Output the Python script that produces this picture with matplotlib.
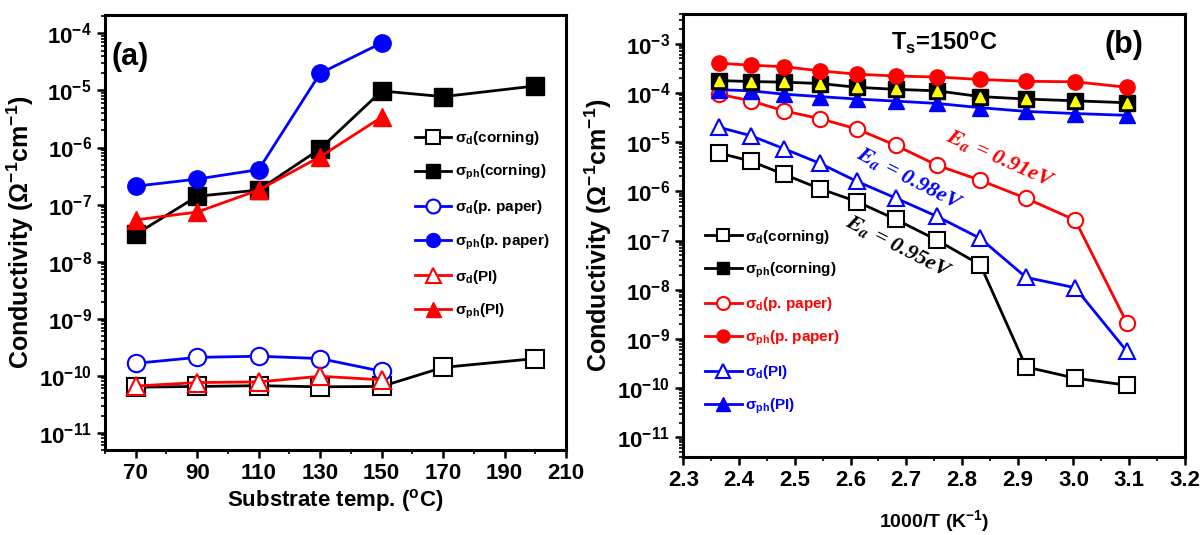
import matplotlib
matplotlib.use("Agg")
import matplotlib.pyplot as plt
from matplotlib.ticker import LogLocator, MultipleLocator, LogFormatterMathtext, NullFormatter, FixedLocator, FormatStrFormatter
from matplotlib.lines import Line2D

plt.rcParams['font.family'] = ['Liberation Sans', 'DejaVu Sans']
plt.rcParams['font.weight'] = 'bold'
plt.rcParams['mathtext.fontset'] = 'custom'
plt.rcParams['mathtext.rm'] = 'Liberation Sans:bold'
plt.rcParams['mathtext.bf'] = 'Liberation Sans:bold'
plt.rcParams['mathtext.it'] = 'Liberation Sans:bold:italic'
plt.rcParams['mathtext.sf'] = 'Liberation Sans:bold'
plt.rcParams['mathtext.default'] = 'bf'

# ---------------- Panel (a) data ----------------
ts_all = [70, 90, 110, 130, 150, 170, 200]
ts_five = [70, 90, 110, 130, 150]
a_sd_corning = [6.3e-11, 6.5e-11, 6.7e-11, 6.4e-11, 6.5e-11, 1.4e-10, 2.0e-10]
a_sph_corning = [3.0e-8, 1.4e-7, 1.8e-7, 9.5e-7, 9.8e-6, 7.8e-6, 1.2e-5]
a_sd_paper = [1.65e-10, 2.1e-10, 2.2e-10, 2.0e-10, 1.2e-10]
a_sph_paper = [2.1e-7, 2.8e-7, 4.1e-7, 2.0e-5, 6.8e-5]
a_sd_pi = [6.6e-11, 7.6e-11, 7.8e-11, 9.8e-11, 8.5e-11]
a_sph_pi = [5.4e-8, 7.4e-8, 1.8e-7, 6.9e-7, 3.4e-6]
a_xticks = [70, 90, 110, 130, 150, 170, 190, 210]
a_yticks = [1e-11, 1e-10, 1e-9, 1e-8, 1e-7, 1e-6, 1e-5, 1e-4]

# ---------------- Panel (b) data ----------------
invT = [2.364, 2.421, 2.481, 2.545, 2.611, 2.681, 2.755, 2.833, 2.915, 3.003, 3.096]
b_sd_corning = [6.0e-6, 4.1e-6, 2.2e-6, 1.13e-6, 6.2e-7, 2.7e-7, 1.02e-7, 3.2e-8, 2.7e-10, 1.6e-10, 1.15e-10]
b_sph_corning = [1.78e-4, 1.7e-4, 1.65e-4, 1.55e-4, 1.3e-4, 1.18e-4, 1.1e-4, 8.4e-5, 7.5e-5, 6.9e-5, 6.3e-5]
b_sd_paper = [9.4e-5, 6.9e-5, 4.3e-5, 3.0e-5, 1.85e-5, 8.6e-6, 3.4e-6, 1.67e-6, 7.2e-7, 2.6e-7, 2.1e-9]
b_sph_paper = [4.0e-4, 3.65e-4, 3.4e-4, 2.8e-4, 2.4e-4, 2.2e-4, 2.1e-4, 1.87e-4, 1.72e-4, 1.68e-4, 1.3e-4]
b_sd_pi = [2.0e-5, 1.35e-5, 7.3e-6, 3.7e-6, 1.6e-6, 7.3e-7, 3.1e-7, 1.1e-7, 1.78e-8, 1.1e-8, 5.6e-10]
b_sph_pi = [1.16e-4, 1.1e-4, 9.4e-5, 8.4e-5, 7.5e-5, 6.8e-5, 6.1e-5, 5.0e-5, 4.2e-5, 3.8e-5, 3.5e-5]
b_yticks = [1e-11, 1e-10, 1e-9, 1e-8, 1e-7, 1e-6, 1e-5, 1e-4, 1e-3]

labels = [r'$\sigma_{d}$(corning)', r'$\sigma_{ph}$(corning)', r'$\sigma_{d}$(p. paper)',
          r'$\sigma_{ph}$(p. paper)', r'$\sigma_{d}$(PI)', r'$\sigma_{ph}$(PI)']

BLK, BLU, RED = '#000000', '#0000FF', '#FF0000'

fig = plt.figure(figsize=(12.01, 5.35), dpi=100)
axa = fig.add_axes([0.0874, 0.1589, 0.3839, 0.813])
axb = fig.add_axes([0.569, 0.1458, 0.4176, 0.828])

lw = 2.0
mew = 1.5

def style_axes(ax, yticks):
    ax.set_yscale('log')
    for s in ax.spines.values():
        s.set_linewidth(2.2)
    ax.yaxis.set_major_locator(FixedLocator(yticks))
    ax.yaxis.set_minor_locator(LogLocator(base=10, subs=range(2, 10), numticks=20))
    ax.yaxis.set_major_formatter(LogFormatterMathtext())
    ax.yaxis.set_minor_formatter(NullFormatter())
    ax.tick_params(which='major', direction='out', length=6, width=1.8, labelsize=16)
    ax.tick_params(which='minor', direction='out', length=3, width=1.2)

# ---- Panel (a) ----
ms_a = 12.5
axa.plot(ts_all, a_sd_corning, '-', color=BLK, lw=lw, marker='s', ms=ms_a, mfc='white', mec=BLK, mew=mew, label=labels[0])
axa.plot(ts_all, a_sph_corning, '-', color=BLK, lw=lw, marker='s', ms=ms_a, mfc=BLK, mec=BLK, label=labels[1])
axa.plot(ts_five, a_sd_paper, '-', color=BLU, lw=lw, marker='o', ms=ms_a, mfc='white', mec=BLU, mew=mew, label=labels[2])
axa.plot(ts_five, a_sph_paper, '-', color=BLU, lw=lw, marker='o', ms=ms_a, mfc=BLU, mec=BLU, label=labels[3])
axa.plot(ts_five, a_sd_pi, '-', color=RED, lw=lw, marker='^', ms=ms_a + 1, mfc='white', mec=RED, mew=mew, label=labels[4])
axa.plot(ts_five, a_sph_pi, '-', color=RED, lw=lw, marker='^', ms=ms_a + 1, mfc=RED, mec=RED, label=labels[5])

style_axes(axa, a_yticks)
axa.set_xlim(60, 210)
axa.set_ylim(5e-12, 2.1e-4)
axa.xaxis.set_major_locator(FixedLocator(a_xticks))
axa.xaxis.set_minor_locator(MultipleLocator(10))
axa.set_xlabel('Substrate temp. ($^{o}$C)', fontsize=16, fontweight='bold', labelpad=2)
axa.set_ylabel(r'Conductivity ($\Omega^{-1}$cm$^{-1}$)', fontsize=18, fontweight='bold', labelpad=2)
axa.text(0.015, 0.903, '(a)', transform=axa.transAxes, fontsize=22, fontweight='bold', va='center', ha='left')
leg_a = axa.legend(loc='upper left', bbox_to_anchor=(0.672, 0.738), frameon=False, fontsize=11,
                   handlelength=2.4, handletextpad=0.2, labelspacing=1.05, borderpad=0, borderaxespad=0,
                   markerscale=0.8)

# ---- Panel (b) ----
ms_b = 11
axb.plot(invT, b_sd_corning, '-', color=BLK, lw=lw, marker='s', ms=ms_b, mfc='white', mec=BLK, mew=mew, label=labels[0])
axb.plot(invT, b_sd_paper, '-', color=RED, lw=lw, marker='o', ms=ms_b, mfc='white', mec=RED, mew=mew, label=labels[2])
axb.plot(invT, b_sd_pi, '-', color=BLU, lw=lw, marker='^', ms=ms_b + 1, mfc='white', mec=BLU, mew=mew, label=labels[4])
axb.plot(invT, b_sph_pi, '-', color=BLU, lw=lw, marker='^', ms=ms_b + 1, mfc=BLU, mec=BLU, label=labels[5])
axb.plot(invT, b_sph_corning, '-', color=BLK, lw=lw, marker='s', ms=ms_b, mfc=BLK, mec=BLK, label=labels[1])
axb.plot(invT, b_sph_corning, ls='none', marker='^', ms=7, mfc='#FFFF00', mec='#FFFF00')
axb.plot(invT, b_sph_paper, '-', color=RED, lw=lw, marker='o', ms=ms_b, mfc=RED, mec=RED, label=labels[3])

style_axes(axb, b_yticks)
axb.set_xlim(2.3, 3.2)
axb.set_ylim(4e-12, 4e-3)
axb.xaxis.set_major_locator(MultipleLocator(0.1))
axb.xaxis.set_minor_locator(MultipleLocator(0.05))
axb.xaxis.set_major_formatter(FormatStrFormatter('%.1f'))
axb.set_xlabel('1000/T (K$^{-1}$)', fontsize=14, fontweight='bold', labelpad=12)
axb.set_ylabel(r'Conductivity ($\Omega^{-1}$cm$^{-1}$)', fontsize=18, fontweight='bold', labelpad=2)
axb.text(0.84, 0.93, '(b)', transform=axb.transAxes, fontsize=22, fontweight='bold', va='center', ha='left')
axb.text(0.414, 0.935, r'T$_{s}$=150$^{o}$C', transform=axb.transAxes, fontsize=17, fontweight='bold', va='center', ha='left')

handles_b = [Line2D([], [], color=BLK, lw=lw, marker='s', ms=ms_b, mfc='white', mec=BLK, mew=mew),
             Line2D([], [], color=BLK, lw=lw, marker='s', ms=ms_b, mfc=BLK, mec=BLK),
             Line2D([], [], color=RED, lw=lw, marker='o', ms=ms_b, mfc='white', mec=RED, mew=mew),
             Line2D([], [], color=RED, lw=lw, marker='o', ms=ms_b, mfc=RED, mec=RED),
             Line2D([], [], color=BLU, lw=lw, marker='^', ms=ms_b + 1, mfc='white', mec=BLU, mew=mew),
             Line2D([], [], color=BLU, lw=lw, marker='^', ms=ms_b + 1, mfc=BLU, mec=BLU)]
leg_b = axb.legend(handles_b, labels, loc='upper left', bbox_to_anchor=(0.043, 0.518), frameon=False, fontsize=11,
                   handlelength=2.4, handletextpad=0.2, labelspacing=1.0, borderpad=0, borderaxespad=0,
                   markerscale=0.85, labelcolor='linecolor')

ea_kw = dict(fontsize=16, family='Liberation Serif', fontweight='bold', style='italic',
             ha='center', va='center', rotation_mode='anchor', math_fontfamily='stix')
axb.text(2.868, 4.4e-6, r'$\mathbfit{E}_{\mathbfit{a}}$ = 0.91eV', color=RED, rotation=-24, **ea_kw)
axb.text(2.705, 1.7e-6, r'$\mathbfit{E}_{\mathbfit{a}}$ = 0.98eV', color=BLU, rotation=-27, **ea_kw)
axb.text(2.685, 7.1e-8, r'$\mathbfit{E}_{\mathbfit{a}}$ = 0.95eV', color=BLK, rotation=-27, **ea_kw)

fig.savefig('out.png', dpi=100)
